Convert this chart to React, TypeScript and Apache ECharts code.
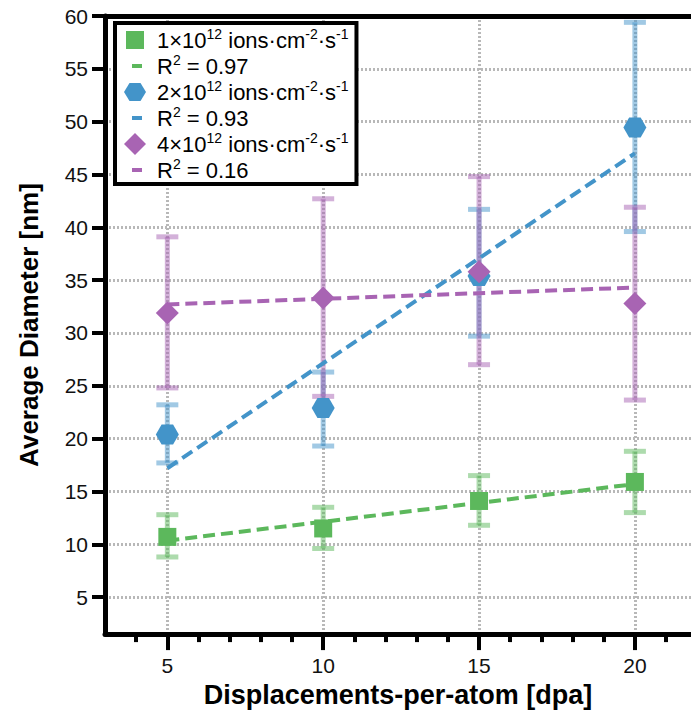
import React, { useEffect, useRef } from 'react';
import * as echarts from 'echarts';

// ---------- data ----------
const dpa = [5, 10, 15, 20];

const lowName = '1×10^12 ions·cm^-2·s^-1';
const midName = '2×10^12 ions·cm^-2·s^-1';
const highName = '4×10^12 ions·cm^-2·s^-1';
const lowFitName = 'R^2 = 0.97';
const midFitName = 'R^2 = 0.93';
const highFitName = 'R^2 = 0.16';

const lowMean = [10.7, 11.5, 14.1, 15.9];
const lowErrLow = [8.8, 9.6, 11.8, 13.0];
const lowErrHigh = [12.8, 13.5, 16.5, 18.8];

const midMean = [20.4, 22.9, 35.4, 49.45];
const midErrLow = [17.7, 19.3, 29.7, 39.6];
const midErrHigh = [23.2, 26.3, 41.7, 59.4];

const highMean = [31.9, 33.3, 35.8, 32.8];
const highErrLow = [24.8, 24.0, 27.0, 23.65];
const highErrHigh = [39.1, 42.7, 44.8, 41.9];

const fitX = [5, 20];
const lowFit = [10.35, 15.7];
const midFit = [17.2, 47.0];
const highFit = [32.7, 34.3];

const yTickValues = [5, 10, 15, 20, 25, 30, 35, 40, 45, 50, 55, 60];
const xMajorTicks = [5, 10, 15, 20];
const xMinorTicks = [4, 6, 7, 8, 9, 11, 12, 13, 14, 16, 17, 18, 19, 21];

// ---------- styles ----------
const GREEN = '#5cb85c';
const BLUE = '#4394c9';
const PURPLE = '#a864b3';
const FONT = '"Liberation Sans", Arial, Helvetica, sans-serif';
const HEX = 'path://M0,43 L25,0 L75,0 L100,43 L75,86 L25,86 Z';

const legendRich: Record<string, string> = {
  [lowName]: '{n|1×10}{sup|12}{n| ions·cm}{sup|-2}{n|·s}{sup|-1}',
  [midName]: '{n|2×10}{sup|12}{n| ions·cm}{sup|-2}{n|·s}{sup|-1}',
  [highName]: '{n|4×10}{sup|12}{n| ions·cm}{sup|-2}{n|·s}{sup|-1}',
  [lowFitName]: '{n|R}{sup|2}{n| = 0.97}',
  [midFitName]: '{n|R}{sup|2}{n| = 0.93}',
  [highFitName]: '{n|R}{sup|2}{n| = 0.16}',
};

// legend icons in a 34 x 26 box (corner moves fix the box)
const ICON_SQUARE = 'path://M0,0M34,26M8,4h18v18h-18z';
const ICON_HEX = 'path://M0,0M34,26M6,13L11.5,4L22.5,4L28,13L22.5,22L11.5,22Z';
const ICON_DIAMOND = 'path://M0,0M34,26M6,13L17,2L28,13L17,24Z';
const ICON_DASH = 'path://M0,0M34,26M14,11h10v4h-10z';

function errorSeries(name: string, color: string, lows: number[], highs: number[]) {
  const data = dpa.map((x, i) => [x, lows[i], highs[i]]);
  return {
    type: 'custom',
    name,
    xAxisIndex: 0,
    yAxisIndex: 0,
    silent: true,
    z: 2,
    data,
    renderItem: (params: any, api: any) => {
      const x = api.value(0);
      const lo = api.coord([x, api.value(1)]);
      const hi = api.coord([x, api.value(2)]);
      const half = 11;
      const style = { stroke: color, lineWidth: 5, opacity: 0.5 };
      return {
        type: 'group',
        children: [
          { type: 'line', shape: { x1: lo[0], y1: lo[1], x2: hi[0], y2: hi[1] }, style },
          { type: 'line', shape: { x1: hi[0] - half, y1: hi[1], x2: hi[0] + half, y2: hi[1] }, style },
          { type: 'line', shape: { x1: lo[0] - half, y1: lo[1], x2: lo[0] + half, y2: lo[1] }, style },
        ],
      };
    },
  };
}

function fitSeries(name: string, color: string, ys: number[]) {
  return {
    type: 'line',
    name,
    xAxisIndex: 0,
    yAxisIndex: 0,
    z: 3,
    symbol: 'none',
    silent: true,
    color,
    lineStyle: { color, width: 4, type: [12, 6] },
    data: fitX.map((x, i) => [x, ys[i]]),
  };
}

function pointSeries(name: string, color: string, symbol: string, size: any, ys: number[]) {
  return {
    type: 'scatter',
    name,
    xAxisIndex: 0,
    yAxisIndex: 0,
    z: 4,
    symbol,
    symbolSize: size,
    color,
    itemStyle: { color, opacity: 1 },
    data: dpa.map((x, i) => [x, ys[i]]),
  };
}

export default function App() {
  const ref = useRef<HTMLDivElement>(null);
  useEffect(() => {
    if (!ref.current) return;
    const chart = echarts.init(ref.current, undefined, { renderer: 'svg' });
    const xRange = { min: 3, max: 21.8 };
    chart.setOption({
      animation: false,
      backgroundColor: '#ffffff',
      grid: { left: 105, right: 0, top: 16, bottom: 78, containLabel: false },
      xAxis: [
        {
          type: 'value',
          ...xRange,
          position: 'bottom',
          name: 'Displacements-per-atom [dpa]',
          nameLocation: 'middle',
          nameGap: 41,
          nameTextStyle: { fontFamily: FONT, fontSize: 27, fontWeight: 'bold', color: '#000' },
          axisLine: { show: true, onZero: false, lineStyle: { color: '#000', width: 5 } },
          axisTick: { show: true, inside: false, length: 16, lineStyle: { color: '#000', width: 4 }, customValues: xMajorTicks },
          axisLabel: { customValues: xMajorTicks, margin: 21, fontFamily: FONT, fontSize: 21, color: '#111' },
          splitLine: { show: true, lineStyle: { color: '#b8b8b8', width: 3, type: [2, 2] } },
        },
        {
          type: 'value',
          ...xRange,
          position: 'bottom',
          axisLine: { show: false, onZero: false },
          axisTick: { show: true, inside: false, length: 8, lineStyle: { color: '#000', width: 4 }, customValues: xMinorTicks },
          axisLabel: { show: false },
          splitLine: { show: false },
        },
        {
          type: 'value',
          ...xRange,
          position: 'top',
          axisLine: { show: true, onZero: false, lineStyle: { color: '#000', width: 5 } },
          axisTick: { show: false },
          axisLabel: { show: false },
          splitLine: { show: false },
        },
      ],
      yAxis: {
        type: 'value',
        min: 1.5,
        max: 60,
        name: 'Average Diameter [nm]',
        nameLocation: 'middle',
        nameGap: 63,
        nameRotate: 90,
        nameTextStyle: { fontFamily: FONT, fontSize: 26, fontWeight: 'bold', color: '#000' },
        axisLine: { show: true, onZero: false, lineStyle: { color: '#000', width: 5 } },
        axisTick: { show: true, inside: false, length: 13, lineStyle: { color: '#000', width: 4 }, customValues: yTickValues },
        axisLabel: { customValues: yTickValues, margin: 17, fontFamily: FONT, fontSize: 21, color: '#111' },
        splitLine: { show: true, lineStyle: { color: '#b8b8b8', width: 3, type: [2, 2] } },
      },
      legend: {
        show: true,
        orient: 'vertical',
        left: 115,
        top: 23,
        selectedMode: false,
        backgroundColor: '#ffffff',
        borderColor: '#000',
        borderWidth: 4,
        borderRadius: 0,
        padding: [4, 8, 1, 3],
        itemWidth: 34,
        itemHeight: 26,
        itemGap: 0,
        symbolKeepAspect: true,
        itemStyle: { borderWidth: 0 },
        formatter: (name: string) => legendRich[name] || name,
        textStyle: {
          fontFamily: FONT,
          fontSize: 22,
          color: '#000',
          rich: {
            n: { fontFamily: FONT, fontSize: 22, color: '#000', lineHeight: 26 },
            sup: { fontFamily: FONT, fontSize: 14, color: '#000', verticalAlign: 'top', padding: [0, 0, 0, 0] },
          },
        },
        data: [
          { name: lowName, icon: ICON_SQUARE, itemStyle: { color: GREEN, borderWidth: 0 } },
          { name: lowFitName, icon: ICON_DASH, itemStyle: { color: GREEN, borderWidth: 0 } },
          { name: midName, icon: ICON_HEX, itemStyle: { color: BLUE, borderWidth: 0 } },
          { name: midFitName, icon: ICON_DASH, itemStyle: { color: BLUE, borderWidth: 0 } },
          { name: highName, icon: ICON_DIAMOND, itemStyle: { color: PURPLE, borderWidth: 0 } },
          { name: highFitName, icon: ICON_DASH, itemStyle: { color: PURPLE, borderWidth: 0 } },
        ],
      },
      series: [
        errorSeries('err-low', GREEN, lowErrLow, lowErrHigh),
        errorSeries('err-mid', BLUE, midErrLow, midErrHigh),
        errorSeries('err-high', PURPLE, highErrLow, highErrHigh),
        fitSeries(lowFitName, GREEN, lowFit),
        fitSeries(midFitName, BLUE, midFit),
        fitSeries(highFitName, PURPLE, highFit),
        pointSeries(lowName, GREEN, 'rect', 18, lowMean),
        pointSeries(midName, BLUE, HEX, [23, 20], midMean),
        pointSeries(highName, PURPLE, 'diamond', [23, 23], highMean),
      ],
    });
    return () => chart.dispose();
  }, []);
  return (
    <div
      ref={ref}
      style={{ position: 'fixed', left: 0, top: 0, width: 691, height: 713, background: '#fff' }}
    />
  );
}
